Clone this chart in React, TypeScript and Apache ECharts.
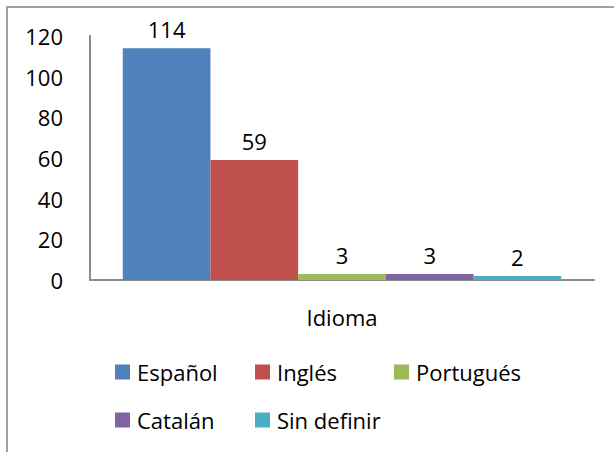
import React, { useEffect, useRef } from "react";
import * as echarts from "echarts";

const categories = ["Idioma"];
const seriesNames = ["Español", "Inglés", "Portugués", "Catalán", "Sin definir"];
const seriesValues = [114, 59, 3, 3, 2];
const seriesColors = ["#4F81BD", "#C0504D", "#9BBB59", "#8064A2", "#4BACC6"];
const legendPositions = [
  { left: 115, top: 360 },
  { left: 255, top: 360 },
  { left: 394, top: 360 },
  { left: 115, top: 408 },
  { left: 255, top: 408 },
];

const FONT = "'Open Sans', 'Noto Sans', sans-serif";
const FS = 22;

export default function App() {
  const ref = useRef<HTMLDivElement>(null);
  useEffect(() => {
    if (!ref.current) return;
    const chart = echarts.init(ref.current, undefined, { renderer: "svg" });
    chart.setOption({
      animation: false,
      textStyle: { fontFamily: FONT },
      graphic: [
        {
          type: "rect",
          shape: { x: 7, y: 7, width: 700, height: 600 },
          style: { fill: "none", stroke: "#A0A0A0", lineWidth: 2 },
          silent: true,
        },
      ],
      legend: seriesNames.map((n, i) => ({
        data: [n],
        left: legendPositions[i].left,
        top: legendPositions[i].top,
        padding: 0,
        itemWidth: 15,
        itemHeight: 15,
        itemGap: 0,
        icon: "rect",
        textStyle: { fontSize: FS, color: "#000", fontFamily: FONT, lineHeight: 24, padding: [0, 0, 0, 2] },
      })),
      grid: { left: 90, right: 20, top: 36, bottom: 172 },
      xAxis: {
        type: "category",
        data: categories,
        axisLine: { show: true, lineStyle: { color: "#8C8C8C", width: 2 } },
        axisTick: { show: false },
        axisLabel: { fontSize: FS, color: "#000", margin: 26, fontFamily: FONT },
      },
      yAxis: {
        type: "value",
        min: 0,
        max: 120,
        interval: 20,
        axisLine: { show: true, lineStyle: { color: "#8C8C8C", width: 2 } },
        axisTick: { show: false },
        splitLine: { show: false },
        axisLabel: { fontSize: FS, color: "#000", margin: 27, fontFamily: FONT },
      },
      series: seriesNames.map((n, i) => ({
        name: n,
        type: "bar",
        data: [seriesValues[i]],
        barGap: "0%",
        barCategoryGap: "13%",
        itemStyle: { color: seriesColors[i] },
        label: {
          show: true,
          position: "top",
          distance: 8,
          fontSize: FS,
          color: "#000",
          fontFamily: FONT,
        },
      })),
    });
    return () => chart.dispose();
  }, []);
  return (
    <div
      ref={ref}
      style={{ position: "absolute", left: 0, top: 0, width: 614, height: 452, background: "#fff" }}
    />
  );
}
